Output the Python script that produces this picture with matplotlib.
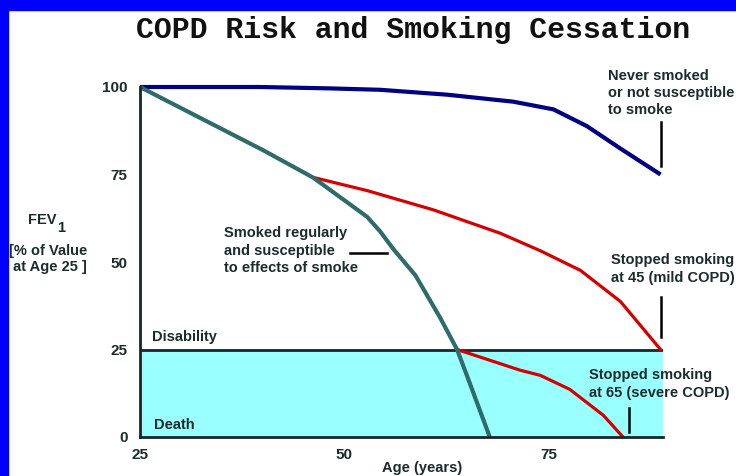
import matplotlib
matplotlib.use('Agg')
import matplotlib.pyplot as plt
from matplotlib.patches import Rectangle

# Data (age in years, FEV1 as % of value at age 25)
never_age = [25, 39.7, 48.3, 54.4, 62.6, 70.7, 75.6, 79.7, 83.8, 88.7]
never_fev = [100, 100, 99.6, 99.2, 97.8, 95.8, 93.6, 88.8, 82.4, 75]

smoker_age = [25, 32.0, 40.1, 46.2, 49.5, 52.8, 54.4, 56.0, 58.7, 61.7, 63.8, 65.0, 67.8]
smoker_fev = [100, 91.6, 81.9, 74.1, 68.5, 62.9, 58.7, 53.7, 46.2, 34.2, 25, 17.6, 0]

stop45_age = [46.5, 52.8, 60.9, 69.1, 74.0, 78.9, 83.8, 88.7]
stop45_fev = [74.0, 70.4, 64.9, 58.2, 53.2, 47.6, 38.7, 25]

stop65_age = [63.8, 71.5, 74.0, 77.6, 81.7, 84.1]
stop65_fev = [25, 19.1, 17.6, 13.6, 6.2, 0]

x_ticks = [25, 50, 75]
y_ticks = [0, 25, 50, 75, 100]
disability_level = 25

label_font = ['Liberation Sans Narrow', 'Liberation Sans', 'DejaVu Sans']
text_color = '#1c2b2b'
line_dark = '#1a2626'

fig = plt.figure(figsize=(7.36, 4.76), dpi=100)
fig.patch.set_facecolor('white')

# blue frame on the left and top edges
fig.add_artist(Rectangle((0, 0), 8 / 736, 1, transform=fig.transFigure,
                         color='#0000ff', zorder=0))
fig.add_artist(Rectangle((0, 1 - 10 / 476), 1, 10 / 476, transform=fig.transFigure,
                         color='#0000ff', zorder=0))

ax = fig.add_axes([140 / 736, 39 / 476, 523 / 736, 350 / 476])
ax.set_xlim(25, 89)
ax.set_ylim(0, 100)

# death zone and disability line
ax.axhspan(0, disability_level, color='#99ffff', zorder=1)
ax.axhline(disability_level, color=line_dark, lw=2, zorder=2)

ax.plot(never_age, never_fev, color='#000080', lw=3, zorder=4, clip_on=False,
        solid_capstyle='butt', solid_joinstyle='round')
ax.plot(smoker_age, smoker_fev, color='#2f6b6b', lw=3, zorder=4, clip_on=False,
        solid_capstyle='butt', solid_joinstyle='round')
ax.plot(stop45_age, stop45_fev, color='#d40000', lw=2.3, zorder=3, clip_on=False,
        solid_joinstyle='round')
ax.plot(stop65_age, stop65_fev, color='#d40000', lw=2.3, zorder=3, clip_on=False,
        solid_joinstyle='round')

# leader lines for the labels
ax.plot([88.8, 88.8], [77.5, 90], color='black', lw=1.8, clip_on=False)
ax.plot([88.8, 88.8], [28.6, 40], color='black', lw=1.8, clip_on=False)
ax.plot([84.9, 84.9], [1.5, 8.3], color='black', lw=1.8, clip_on=False)
ax.plot([50.7, 55.2], [52.6, 52.6], color='black', lw=1.8, clip_on=False)

tkw = dict(family=label_font, weight='bold', fontsize=10.5, color=text_color,
           linespacing=1.3, clip_on=False)
ax.text(82.3, 98.3, 'Never smoked\nor not susceptible\nto smoke', va='center', **tkw)
ax.text(82.6, 48.0, 'Stopped smoking\nat 45 (mild COPD)', va='center', **tkw)
ax.text(80.0, 15.1, 'Stopped smoking\nat 65 (severe COPD)', va='center', **tkw)
ax.text(35.3, 53.2, 'Smoked regularly\nand susceptible\nto effects of smoke', va='center', **tkw)
ax.text(26.5, 28.6, 'Disability', va='center', **tkw)
ax.text(26.7, 3.4, 'Death', va='center', **tkw)

for side in ['top', 'right']:
    ax.spines[side].set_visible(False)
for side in ['left', 'bottom']:
    ax.spines[side].set_color(line_dark)
    ax.spines[side].set_linewidth(2)
    ax.spines[side].set_zorder(5)

ax.set_xticks(x_ticks)
ax.set_yticks(y_ticks)
ax.tick_params(length=0, labelsize=11, labelcolor=text_color)
ax.tick_params(axis='x', pad=8)
ax.tick_params(axis='y', pad=9)
for lab in ax.get_xticklabels() + ax.get_yticklabels():
    lab.set_family(label_font)
    lab.set_fontweight('bold')

fig.text(422 / 736, 1 - 475 / 476, 'Age (years)', ha='center', va='bottom',
         family=label_font, weight='bold', fontsize=10.5, color=text_color)

# y axis title with subscript
fig.text(42 / 736, 1 - 220 / 476, 'FEV', ha='center', va='center',
         family=label_font, weight='bold', fontsize=10.5, color=text_color)
fig.text(61 / 736, 1 - 228 / 476, '1', ha='center', va='center',
         family=label_font, weight='bold', fontsize=10.5, color=text_color)
fig.text(48 / 736, 1 - 259 / 476, '[% of Value\n at Age 25 ]', ha='center', va='center',
         family=label_font, weight='bold', fontsize=10.5, color=text_color,
         linespacing=1.2)

fig.text(413 / 736, 1 - 30 / 476, 'COPD Risk and Smoking Cessation', ha='center',
         va='center', family=['Liberation Mono', 'DejaVu Sans Mono'], weight='bold',
         fontsize=21.5, color='#111111')

fig.savefig('out.png', dpi=100)
